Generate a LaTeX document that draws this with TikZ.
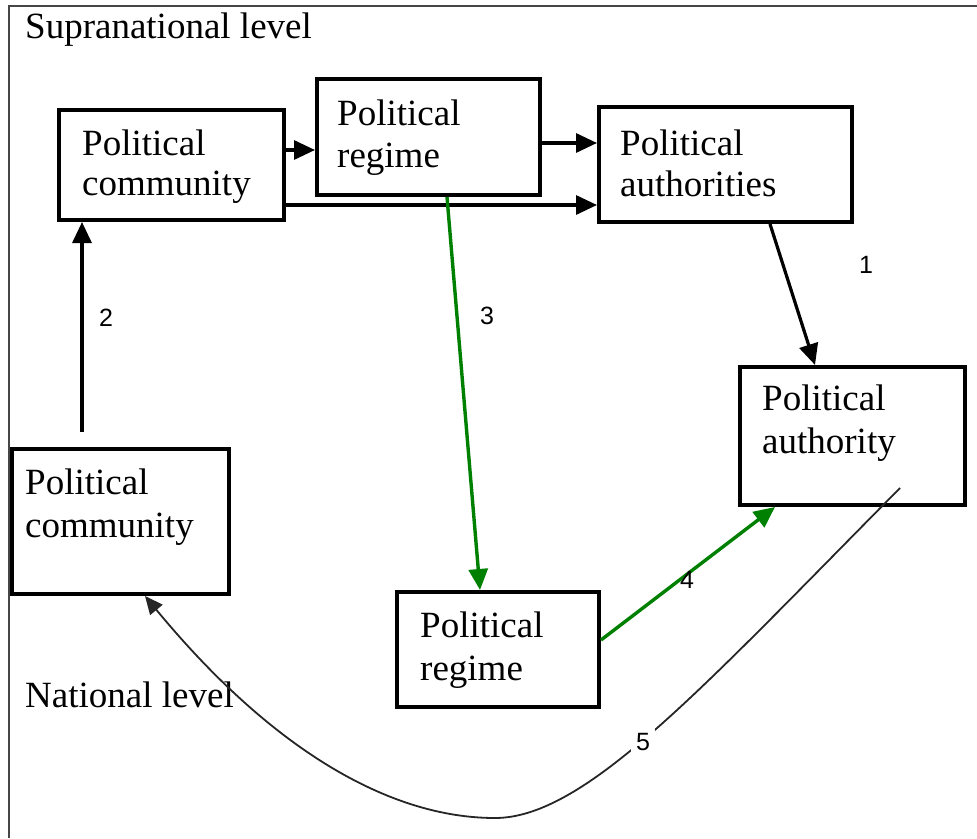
\documentclass[tikz,border=0pt]{standalone}
\usepackage{fontspec}
\setmainfont{Liberation Serif}
\newfontfamily\numfont{Liberation Sans}
\usetikzlibrary{arrows.meta}
\definecolor{arrgreen}{RGB}{0,128,0}
\definecolor{framegray}{RGB}{70,70,70}
\begin{document}
\begin{tikzpicture}[x=1pt,y=-1pt,
  box/.style={draw=black, line width=4pt, rectangle, inner sep=0pt, anchor=north west},
  txt/.style={font=\fontsize{37}{42}\selectfont, align=left, inner sep=0pt, anchor=north west},
  lvl/.style={font=\fontsize{37}{42}\selectfont, inner sep=0pt, anchor=base west},
  num/.style={font=\numfont\fontsize{25}{30}\selectfont, inner sep=0pt},
  conn/.style={draw=black, line width=3.2pt, -{Triangle[length=21pt,width=19pt]}},
  gconn/.style={draw=arrgreen, line width=3.4pt, -{Triangle[length=21pt,width=19pt]}},
  curvearrow/.style={draw=black!85, line width=1.8pt, -{Triangle[length=18pt,width=16pt]}},
  framestyle/.style={draw=framegray, line width=2pt}
]
\useasboundingbox (0,0) rectangle (977,838);
\draw[framestyle] (977,6) -- (9,6) -- (9,838);

\node[lvl] (sup) at (25,38) {Supranational level};
\node[lvl] (nat) at (25,707) {National level};

% boxes
\node[box, minimum width=225pt, minimum height=110pt] (A) at (57,108) {};
\node[box, minimum width=223pt, minimum height=116pt] (B) at (315,77) {};
\node[box, minimum width=253pt, minimum height=115pt] (C) at (597,105) {};
\node[box, minimum width=225pt, minimum height=138pt] (D) at (738,365) {};
\node[box, minimum width=202pt, minimum height=115pt] (E) at (395,590) {};
\node[box, minimum width=217pt, minimum height=145pt] (F) at (10,447) {};

% texts
\node[txt, font=\fontsize{37}{40}\selectfont] (tA) at (82,130) {Political\\community};
\node[txt] (tB) at (337,100) {Political\\regime};
\node[txt, font=\fontsize{37}{41}\selectfont] (tC) at (620,130) {Political\\authorities};
\node[txt, font=\fontsize{37}{43}\selectfont] (tD) at (762,385) {Political\\authority};
\node[txt, font=\fontsize{37}{43}\selectfont] (tF) at (25,469) {Political\\community};
\node[txt, font=\fontsize{37}{43}\selectfont] (tE) at (420,612) {Political\\regime};

% connectors
\draw[conn] (A.east |- 0,150) -- (B.west |- 0,150);
\draw[conn] (A.east |- 0,205) -- (C.west |- 0,205);
\draw[conn] (B.east |- 0,143) -- (C.west |- 0,143);
\draw[conn] (C.south -| 770,0) -- (D.north -| 815,0);
\draw[conn, shorten <=15pt] (F.north -| 82,0) -- (A.south -| 82,0);
\draw[gconn] (B.south -| 447,0) -- (E.north -| 480,0);
\draw[gconn] (E.east |- 0,640) -- (D.south -| 775,0);

\coordinate (c5) at (900,488);
\draw[curvearrow] (c5) .. controls (700,690) and (585,818) .. (495,818)
  .. controls (390,818) and (272,750) .. (F.south -| 145,0);

% numbers
\node[num] (n1) at (866,265) {1};
\node[num] (n2) at (106,318) {2};
\node[num] (n3) at (487,316) {3};
\node[num] (n4) at (687,580) {4};
\node[num, fill=white, inner sep=5pt] (n5) at (643,742) {5};
\end{tikzpicture}
\end{document}
